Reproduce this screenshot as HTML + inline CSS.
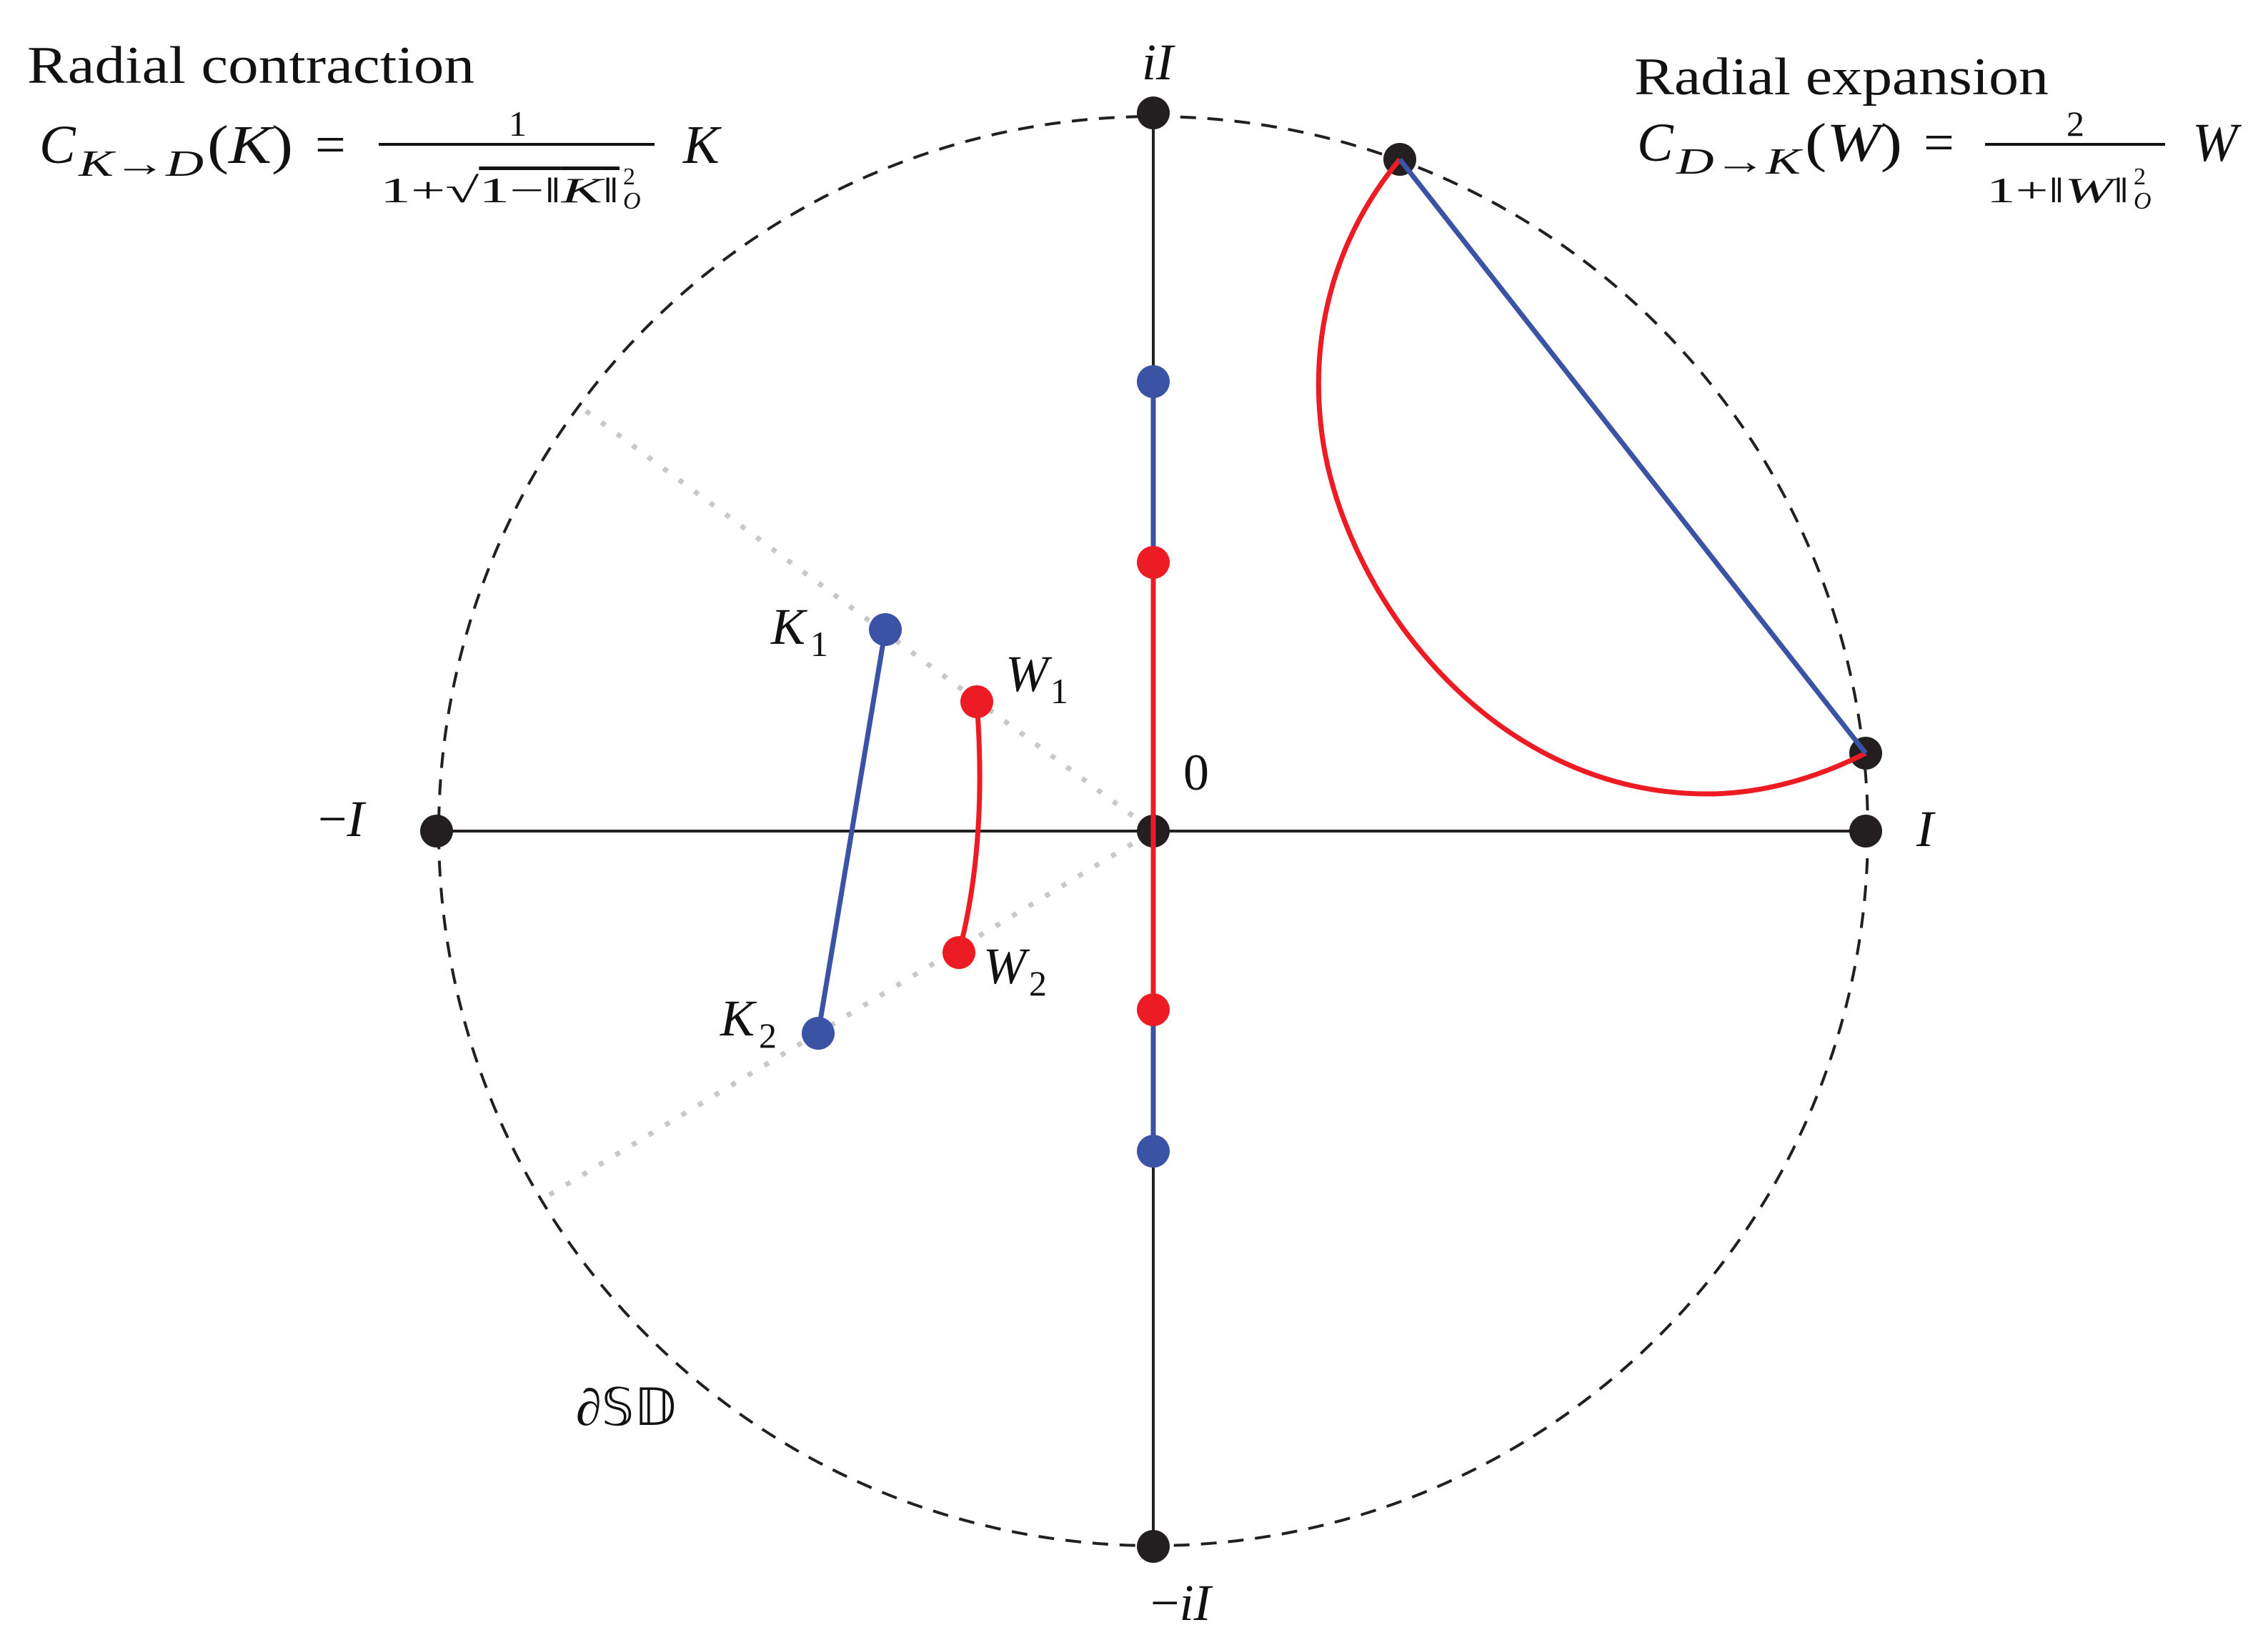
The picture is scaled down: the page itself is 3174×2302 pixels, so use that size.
<!DOCTYPE html>
<html><head><meta charset="utf-8"><style>
html,body{margin:0;padding:0;background:#fff;}
svg{display:block;}
text{font-family:"Liberation Serif",serif;fill:#111;}
.m{font-style:italic;}
</style></head><body>
<svg width="3174" height="2302" viewBox="0 0 3174 2302" xmlns="http://www.w3.org/2000/svg">
<circle cx="1614" cy="1163" r="1000" fill="none" stroke="#231f20" stroke-width="4" stroke-dasharray="22 16"/>
<line x1="820" y1="575" x2="1614" y2="1163" stroke="#c8c8c8" stroke-width="7" stroke-dasharray="7 20"/>
<line x1="769" y1="1672" x2="1614" y2="1163" stroke="#c8c8c8" stroke-width="7" stroke-dasharray="7 20"/>
<line x1="611" y1="1163" x2="2611" y2="1163" stroke="#231f20" stroke-width="4"/>
<line x1="1614" y1="158" x2="1614" y2="534" stroke="#231f20" stroke-width="4"/>
<line x1="1614" y1="1611" x2="1614" y2="2164" stroke="#231f20" stroke-width="4"/>
<line x1="1614" y1="534" x2="1614" y2="787" stroke="#3a53a4" stroke-width="7"/>
<line x1="1614" y1="1413" x2="1614" y2="1611" stroke="#3a53a4" stroke-width="7"/>
<circle cx="1614" cy="1163" r="23" fill="#231f20"/>
<line x1="1614" y1="787" x2="1614" y2="1413" stroke="#ed1c24" stroke-width="7"/>
<circle cx="1614" cy="158" r="23" fill="#231f20"/>
<circle cx="1614" cy="2164" r="23" fill="#231f20"/>
<circle cx="611" cy="1163" r="23" fill="#231f20"/>
<circle cx="2611" cy="1163" r="23" fill="#231f20"/>
<circle cx="1614" cy="534" r="23" fill="#3a53a4"/>
<circle cx="1614" cy="1611" r="23" fill="#3a53a4"/>
<circle cx="1614" cy="787" r="23" fill="#ed1c24"/>
<circle cx="1614" cy="1413" r="23" fill="#ed1c24"/>
<circle cx="1959" cy="223" r="23" fill="#231f20"/>
<circle cx="2611" cy="1054" r="23" fill="#231f20"/>
<path d="M1959 223 C1870 330 1835 460 1848 590 C1870 820 2080 1111 2389 1111 C2480 1111 2560 1080 2611 1054" fill="none" stroke="#ed1c24" stroke-width="7"/>
<line x1="1959" y1="223" x2="2611" y2="1054" stroke="#3a53a4" stroke-width="7"/>
<line x1="1239" y1="881" x2="1145" y2="1446" stroke="#3a53a4" stroke-width="7"/>
<circle cx="1239" cy="881" r="23" fill="#3a53a4"/>
<circle cx="1145" cy="1446" r="23" fill="#3a53a4"/>
<path d="M1367 982 Q1382 1180 1342 1333" fill="none" stroke="#ed1c24" stroke-width="7"/>
<circle cx="1367" cy="982" r="23" fill="#ed1c24"/>
<circle cx="1342" cy="1333" r="23" fill="#ed1c24"/>

<text x="38" y="116" font-size="74" textLength="626" lengthAdjust="spacingAndGlyphs">Radial contraction</text>
<text x="55" y="228" font-size="76" class="m">C</text>
<text x="110" y="246" font-size="52" class="m" textLength="175" lengthAdjust="spacingAndGlyphs">K→D</text>
<text x="290" y="228" font-size="76" textLength="120" lengthAdjust="spacingAndGlyphs">(<tspan class="m">K</tspan>)</text>
<text x="441" y="228" font-size="76">=</text>
<line x1="530" y1="202" x2="916" y2="202" stroke="#111" stroke-width="4"/>
<text x="712" y="190" font-size="50">1</text>
<text x="532" y="283" font-size="50" textLength="335" lengthAdjust="spacingAndGlyphs">1+√<tspan text-decoration="overline">1−‖<tspan class="m">K</tspan>‖</tspan></text>
<text x="872" y="258" font-size="34">2</text>
<text x="872" y="292" font-size="34" class="m">O</text>
<text x="956" y="228" font-size="76" class="m">K</text>

<text x="2287" y="132" font-size="74" textLength="580" lengthAdjust="spacingAndGlyphs">Radial expansion</text>
<text x="2291" y="225" font-size="76" class="m">C</text>
<text x="2346" y="243" font-size="52" class="m" textLength="174" lengthAdjust="spacingAndGlyphs">D→K</text>
<text x="2526" y="225" font-size="76" textLength="136" lengthAdjust="spacingAndGlyphs">(<tspan class="m">W</tspan>)</text>
<text x="2692" y="225" font-size="76">=</text>
<line x1="2778" y1="202" x2="3030" y2="202" stroke="#111" stroke-width="4"/>
<text x="2892" y="190" font-size="50">2</text>
<text x="2780" y="283" font-size="50" textLength="200" lengthAdjust="spacingAndGlyphs">1+‖<tspan class="m">W</tspan>‖</text>
<text x="2986" y="258" font-size="34">2</text>
<text x="2986" y="292" font-size="34" class="m">O</text>
<text x="3068" y="225" font-size="76" class="m">W</text>

<text x="1598" y="111" font-size="72" class="m">iI</text>
<text x="1610" y="2267" font-size="72">−<tspan class="m">iI</tspan></text>
<text x="445" y="1170" font-size="72">−<tspan class="m">I</tspan></text>
<text x="2682" y="1184" font-size="72" class="m">I</text>
<text x="1656" y="1105" font-size="72">0</text>
<text x="1079" y="901" font-size="72" class="m">K</text><text x="1134" y="918" font-size="50">1</text>
<text x="1008" y="1449" font-size="72" class="m">K</text><text x="1062" y="1466" font-size="50">2</text>
<text x="1407" y="967" font-size="72" class="m">W</text><text x="1470" y="984" font-size="50">1</text>
<text x="1376" y="1376" font-size="72" class="m">W</text><text x="1440" y="1393" font-size="50">2</text>
<text x="806" y="1994" font-size="72">∂𝕊𝔻</text>
</svg>
</body></html>
